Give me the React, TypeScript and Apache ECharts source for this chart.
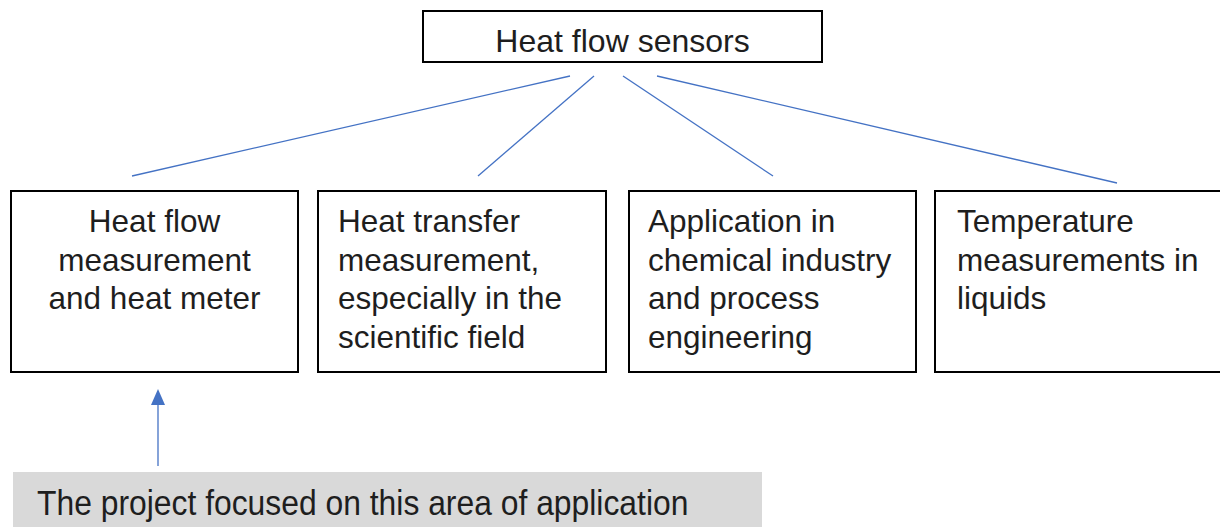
import React, { useEffect, useRef } from "react";
import * as echarts from "echarts";

const rootLabel = "Heat flow sensors";
const categoryLines: string[][] = [
  ["Heat flow", "measurement", "and heat meter"],
  ["Heat transfer", "measurement,", "especially in the", "scientific field"],
  ["Application in", "chemical industry", "and process", "engineering"],
  ["Temperature", "measurements in", "liquids"],
];
const categoryAlign = ["center", "left", "left", "left"];
const focusNote = "The project focused on this area of application";

// layout
const boxX = [11, 318, 629, 935];
const boxW = [287, 288, 287, 290];
const textPad = [0, 20, 19, 22];
const boxY = 191;
const boxH = 181;
const connStartX = [570, 594, 623, 657];
const connEnd: [number, number][] = [
  [132, 176],
  [478, 176],
  [773, 176],
  [1117, 183],
];

const FONT = '"Liberation Sans", Arimo, Arial, sans-serif';
const TEXT_COLOR = "#1e1e1e";
const BLUE = "#4472C4";

export default function App() {
  const ref = useRef<HTMLDivElement>(null);
  useEffect(() => {
    if (!ref.current) return;
    const chart = echarts.init(ref.current, undefined, { renderer: "svg" });
    const elements: any[] = [];

    // root box
    elements.push({
      type: "rect",
      shape: { x: 423, y: 11, width: 399, height: 51 },
      style: { fill: "#fff", stroke: "#000", lineWidth: 2 },
    });
    elements.push({
      type: "text",
      x: 622.5,
      y: 41,
      style: {
        text: rootLabel,
        font: `32px ${FONT}`,
        fill: TEXT_COLOR,
        textAlign: "center",
        textVerticalAlign: "middle",
      },
    });

    // connectors
    connEnd.forEach((end, i) => {
      elements.push({
        type: "line",
        shape: { x1: connStartX[i], y1: 76, x2: end[0], y2: end[1] },
        style: { stroke: BLUE, lineWidth: 1.3 },
      });
    });

    // category boxes
    categoryLines.forEach((lines, i) => {
      elements.push({
        type: "rect",
        shape: { x: boxX[i], y: boxY, width: boxW[i], height: boxH },
        style: { fill: "#fff", stroke: "#000", lineWidth: 2 },
      });
      const center = categoryAlign[i] === "center";
      lines.forEach((ln, j) => {
        elements.push({
          type: "text",
          x: center ? boxX[i] + boxW[i] / 2 : boxX[i] + textPad[i],
          y: 221 + j * 38.5,
          style: {
            text: ln,
            font: `31.5px ${FONT}`,
            fill: TEXT_COLOR,
            textAlign: center ? "center" : "left",
            textVerticalAlign: "middle",
          },
        });
      });
    });

    // arrow
    elements.push({
      type: "line",
      shape: { x1: 158, y1: 466, x2: 158, y2: 400 },
      style: { stroke: BLUE, lineWidth: 1.3 },
    });
    elements.push({
      type: "polygon",
      shape: {
        points: [
          [158, 389],
          [151, 405],
          [165, 405],
        ],
      },
      style: { fill: BLUE },
    });

    // focus note
    elements.push({
      type: "rect",
      shape: { x: 13, y: 472, width: 749, height: 60 },
      style: { fill: "#D9D9D9" },
    });
    elements.push({
      type: "text",
      x: 37,
      y: 503,
      scaleX: 0.91,
      style: {
        text: focusNote,
        font: `35px ${FONT}`,
        fill: TEXT_COLOR,
        textAlign: "left",
        textVerticalAlign: "middle",
      },
    });

    chart.setOption({
      animation: false,
      backgroundColor: "#ffffff",
      graphic: { elements },
    });
    return () => chart.dispose();
  }, []);
  return (
    <div
      ref={ref}
      style={{ position: "fixed", left: 0, top: 0, width: 1220, height: 527 }}
    />
  );
}
